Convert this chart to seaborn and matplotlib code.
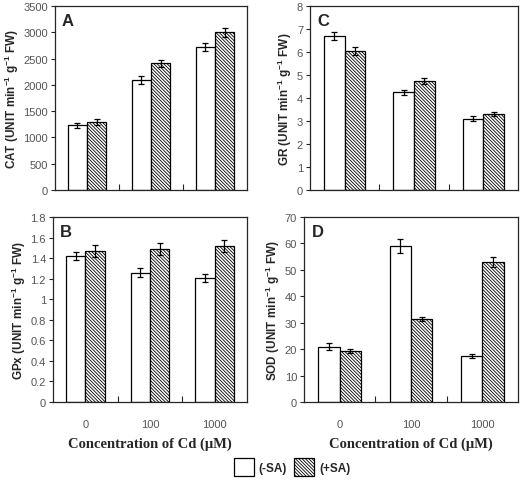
import numpy as np
import pandas as pd
import matplotlib
matplotlib.use("Agg")
import matplotlib.pyplot as plt
import seaborn as sns
from matplotlib.patches import Patch

conc = ["0", "100", "1000"]
treat = ["(-SA)", "(+SA)"]

cat_minus = [1230, 2100, 2720]
cat_plus = [1290, 2410, 3000]
cat_err_minus = [50, 75, 80]
cat_err_plus = [55, 70, 90]

gr_minus = [6.7, 4.25, 3.1]
gr_plus = [6.03, 4.75, 3.3]
gr_err_minus = [0.18, 0.1, 0.1]
gr_err_plus = [0.18, 0.12, 0.1]

gpx_minus = [1.42, 1.26, 1.21]
gpx_plus = [1.47, 1.49, 1.52]
gpx_err_minus = [0.04, 0.04, 0.04]
gpx_err_plus = [0.06, 0.06, 0.06]

sod_minus = [21, 59, 17.5]
sod_plus = [19.2, 31.5, 53]
sod_err_minus = [1.2, 2.5, 0.8]
sod_err_plus = [0.8, 0.8, 1.8]

sns.set_style("ticks")
plt.rcParams['font.family'] = ['Liberation Sans', 'DejaVu Sans']
plt.rcParams['hatch.linewidth'] = 0.6
plt.rcParams['mathtext.fontset'] = 'custom'
plt.rcParams['mathtext.bf'] = 'Liberation Sans:bold'
plt.rcParams['mathtext.rm'] = 'Liberation Sans'
HATCH = "\\" * 10

W, H = 520, 481
fig = plt.figure(figsize=(W / 100, H / 100), dpi=100)


def box(l, t, r, b):
    return [l / W, 1 - b / H, (r - l) / W, (b - t) / H]


def panel(rect, minus, plus, em, ep, ymax, ystep, ylab, letter, fmt, show_x):
    ax = fig.add_axes(rect)
    df = pd.DataFrame({
        "conc": conc * 2,
        "treat": [treat[0]] * 3 + [treat[1]] * 3,
        "val": list(minus) + list(plus),
    })
    sns.barplot(data=df, x="conc", y="val", hue="treat", order=conc,
                hue_order=treat, palette=["white", "white"], width=0.6,
                edgecolor="black", linewidth=0.9, errorbar=None, ax=ax,
                legend=False)
    errs = list(em) + list(ep)
    vals = list(minus) + list(plus)
    for i, p in enumerate(ax.patches[:6]):
        if i >= 3:
            p.set_hatch(HATCH)
        cx = p.get_x() + p.get_width() / 2
        ax.errorbar(cx, vals[i], yerr=errs[i], fmt="none", ecolor="black",
                    elinewidth=0.9, capsize=2.2, capthick=0.9)
    ax.set_xlim(-0.5, 2.5)
    ax.set_ylim(0, ymax)
    ax.set_yticks(np.arange(0, ymax + ystep / 2, ystep))
    ax.set_yticklabels([fmt(v) for v in np.arange(0, ymax + ystep / 2, ystep)],
                       fontsize=8, color="#555555")
    ax.set_xticks([0.5, 1.5], minor=True)
    ax.tick_params(axis="x", which="minor", direction="in", length=4, width=0.8)
    ax.tick_params(axis="x", which="major", length=0, pad=12)
    ax.tick_params(axis="y", length=3, width=0.8, pad=2)
    if show_x:
        ax.set_xticklabels(conc, fontsize=8, color="#555555")
        ax.set_xlabel("Concentration of Cd (\u03bcM)", fontsize=10.5,
                      fontweight="bold", family="Liberation Serif", labelpad=6)
    else:
        ax.set_xticklabels([])
        ax.set_xlabel("")
    ax.set_ylabel(ylab, fontsize=8.5, fontweight="bold", labelpad=2)
    for s in ax.spines.values():
        s.set_linewidth(0.9)
    ax.text(0.035, 0.96, letter, transform=ax.transAxes, fontsize=12,
            fontweight="bold", va="top", ha="left")
    return ax


def f_int(v):
    return "%d" % round(v)


def f_dec(v):
    s = "%.1f" % v
    return s[:-2] if s.endswith(".0") else s


panel(box(55, 7, 247, 191), cat_minus, cat_plus, cat_err_minus, cat_err_plus,
      3500, 500, r"CAT (UNIT min$^{\mathbf{-1}}$ g$^{\mathbf{-1}}$ FW)", "A", f_int, False)
panel(box(310, 7, 518, 191), gr_minus, gr_plus, gr_err_minus, gr_err_plus,
      8, 1, r"GR (UNIT min$^{\mathbf{-1}}$ g$^{\mathbf{-1}}$ FW)", "C", f_int, False)
panel(box(53, 218, 247, 403), gpx_minus, gpx_plus, gpx_err_minus, gpx_err_plus,
      1.8, 0.2, r"GPx (UNIT min$^{\mathbf{-1}}$ g$^{\mathbf{-1}}$ FW)", "B", f_dec, True)
panel(box(304, 218, 518, 403), sod_minus, sod_plus, sod_err_minus, sod_err_plus,
      70, 10, r"SOD (UNIT min$^{\mathbf{-1}}$ g$^{\mathbf{-1}}$ FW)", "D", f_int, True)

handles = [Patch(facecolor="white", edgecolor="black", linewidth=0.9),
           Patch(facecolor="white", edgecolor="black", linewidth=0.9,
                 hatch=HATCH)]
leg = fig.legend(handles, treat, loc="center", bbox_to_anchor=(292 / W, 1 - 468 / H),
                 ncol=2, frameon=False, handlelength=1.7,
                 handleheight=1.9, handletextpad=0.4, columnspacing=0.6,
                 prop={"weight": "bold", "size": 8.5})

fig.savefig("out.png", dpi=100)
